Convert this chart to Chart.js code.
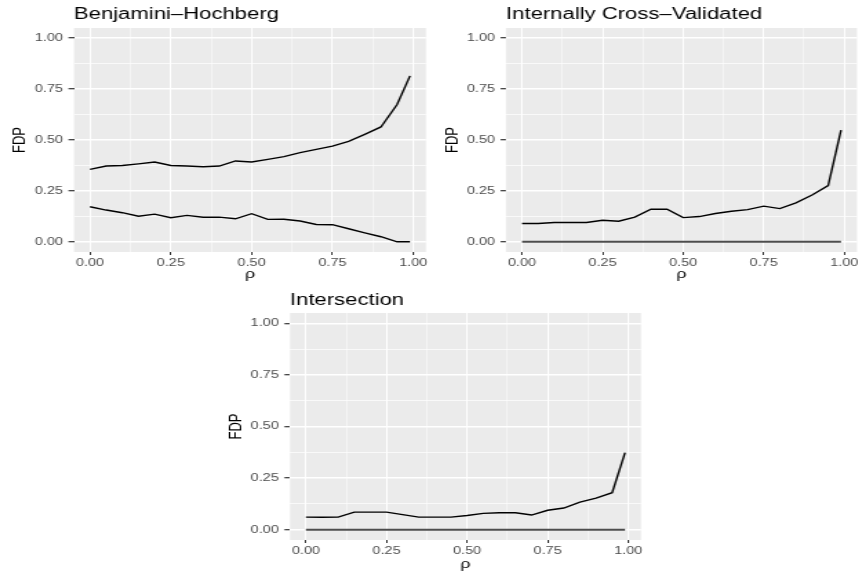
<!DOCTYPE html>
<html>
<head>
<meta charset="UTF-8">
<title>FDP</title>
<script src="https://cdn.jsdelivr.net/npm/chart.js@4.4.0/dist/chart.umd.min.js"></script>
<style>
	*{margin:0;padding:0;}
	body{width:860px;height:573px;overflow:hidden;background:#fff;position:relative;}
	.panel{position:absolute;}
	/* the picture is stretched sideways, so the canvases are too */
	.panel canvas{transform:scaleX(1.38);transform-origin:0 0;}
</style>
</head>
<body>
<div class="panel" style="left:0;top:0"><canvas id="c1" width="312" height="285"></canvas></div>
<div class="panel" style="left:430px;top:0"><canvas id="c2" width="312" height="285"></canvas></div>
<div class="panel" style="left:215px;top:285px"><canvas id="c3" width="312" height="288"></canvas></div>
<script>
var rho = [0, 0.05, 0.1, 0.15, 0.2, 0.25, 0.3, 0.35, 0.4, 0.45, 0.5, 0.55, 0.6, 0.65, 0.7, 0.75, 0.8, 0.85, 0.9, 0.95, 0.99];

// Benjamini-Hochberg
var bhUpper = [0.356, 0.372, 0.375, 0.383, 0.392, 0.375, 0.372, 0.369, 0.372, 0.397, 0.392, 0.405, 0.418, 0.438, 0.454, 0.470, 0.493, 0.528, 0.564, 0.674, 0.815];
var bhLower = [0.172, 0.156, 0.143, 0.126, 0.136, 0.118, 0.130, 0.121, 0.121, 0.113, 0.138, 0.110, 0.111, 0.102, 0.085, 0.084, 0.064, 0.044, 0.025, 0, 0];
// Internally Cross-Validated
var cvUpper = [0.090, 0.090, 0.095, 0.095, 0.095, 0.106, 0.101, 0.121, 0.160, 0.160, 0.119, 0.124, 0.139, 0.150, 0.158, 0.175, 0.163, 0.191, 0.230, 0.276, 0.549];
var cvLower = [0, 0, 0, 0, 0, 0, 0, 0, 0, 0, 0, 0, 0, 0, 0, 0, 0, 0, 0, 0, 0];
// Intersection
var inUpper = [0.061, 0.060, 0.061, 0.085, 0.085, 0.085, 0.073, 0.061, 0.061, 0.061, 0.069, 0.079, 0.082, 0.082, 0.071, 0.094, 0.105, 0.134, 0.153, 0.179, 0.373];
var inLower = [0, 0, 0, 0, 0, 0, 0, 0, 0, 0, 0, 0, 0, 0, 0, 0, 0, 0, 0, 0, 0];

var majorTicks = [0, 0.25, 0.5, 0.75, 1];
var majorLabels = ["0.00", "0.25", "0.50", "0.75", "1.00"];
var minorTicks = [0.125, 0.375, 0.625, 0.875];

var FONT = "'Liberation Sans', Arial, sans-serif";

function pts(ys){
	return rho.map(function(x, i){ return {x: x, y: ys[i]}; });
}
function isMajor(v){
	return majorTicks.indexOf(v) >= 0;
}
function setTicks(scale){
	var all = majorTicks.concat(minorTicks).sort(function(a, b){ return a - b; });
	scale.ticks = all.map(function(v){ return {value: v}; });
}
function tickLabel(value){
	var i = majorTicks.indexOf(value);
	return i >= 0 ? majorLabels[i] : '';
}
function gridWidth(major, minor){
	return function(ctx){
		if(!ctx.tick) return major;
		return isMajor(ctx.tick.value) ? major : minor;
	};
}
function tickColor(ctx){
	if(ctx.tick && isMajor(ctx.tick.value)) return '#333333';
	return 'rgba(0,0,0,0)';
}

//grey panel behind the grid
var panelBg = {
	id: 'panelBg',
	beforeDraw: function(chart){
		var a = chart.chartArea, c = chart.ctx;
		c.save();
		c.fillStyle = '#EBEBEB';
		c.fillRect(a.left, a.top, a.right - a.left, a.bottom - a.top);
		c.restore();
	}
};

function makePanel(id, title, upper, lower, lowerColor, lowerWidth, box){
	new Chart(document.getElementById(id).getContext('2d'), {
		type: 'line',
		data: {
			datasets: [
				{data: pts(lower), borderColor: lowerColor, borderWidth: lowerWidth, pointRadius: 0, tension: 0, fill: false},
				{data: pts(upper), borderColor: '#000000', borderWidth: 1.4, pointRadius: 0, tension: 0, fill: false}
			]
		},
		options: {
			responsive: false,
			animation: false,
			devicePixelRatio: 1,
			events: [],
			layout: {padding: {left: 0, right: box.right, top: 0, bottom: 0}},
			plugins: {
				legend: {display: false},
				tooltip: {enabled: false},
				title: {
					display: true, text: title, align: 'start', fullSize: false,
					color: '#000000', font: {family: FONT, size: 16, weight: 'normal'},
					padding: {top: box.titleTop, bottom: box.titleBottom}
				}
			},
			scales: {
				x: {
					type: 'linear', min: -0.0495, max: 1.0395,
					afterBuildTicks: setTicks,
					afterFit: function(s){ s.height = box.xHeight; },
					ticks: {autoSkip: false, maxRotation: 0, color: '#4D4D4D', font: {family: FONT, size: 10.5}, padding: 1.5, callback: tickLabel},
					grid: {color: '#FFFFFF', lineWidth: gridWidth(1.0, 0.5), tickLength: 3, tickColor: tickColor, tickWidth: 1},
					border: {display: false},
					title: {display: true, text: 'ρ', color: '#000000', font: {family: FONT, size: 13}, padding: {top: 0, bottom: box.xTitle}}
				},
				y: {
					type: 'linear', min: -0.05, max: 1.05,
					afterBuildTicks: setTicks,
					afterFit: function(s){ s.width = box.left; },
					ticks: {autoSkip: false, color: '#4D4D4D', font: {family: FONT, size: 10.5}, padding: 4, callback: tickLabel},
					grid: {color: '#FFFFFF', lineWidth: gridWidth(1.4, 0.7), tickLength: 4, tickColor: tickColor, tickWidth: 1.2},
					border: {display: false},
					title: {display: true, text: 'FDP', color: '#000000', font: {family: FONT, size: 13}, padding: {top: box.yTitle, bottom: 0}}
				}
			}
		},
		plugins: [panelBg]
	});
}

makePanel('c1', 'Benjamini\u2013Hochberg', bhUpper, bhLower, '#000000', 1.4,
	{left: 53.6, right: 3.3, titleTop: 5.4, titleBottom: 3.4, xHeight: 33, xTitle: 2.5, yTitle: 6.2});
makePanel('c2', 'Internally Cross\u2013Validated', cvUpper, cvLower, '#4D4D4D', 2,
	{left: 55.1, right: 1.9, titleTop: 5.4, titleBottom: 3.4, xHeight: 33, xTitle: 2.5, yTitle: 8.4});
makePanel('c3', 'Intersection', inUpper, inLower, '#4D4D4D', 2,
	{left: 54.3, right: 3.3, titleTop: 5.9, titleBottom: 2.9, xHeight: 33, xTitle: 0.5, yTitle: 7.4});
</script>
</body>
</html>
